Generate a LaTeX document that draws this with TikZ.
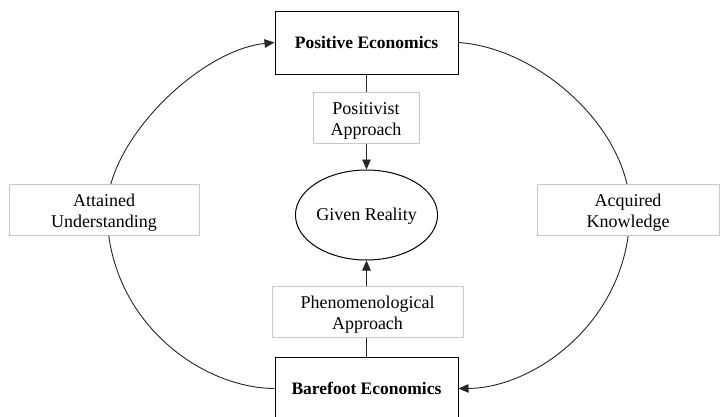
\documentclass[tikz,border=0pt]{standalone}
\usepackage{fontspec}
\setmainfont{Liberation Serif}
\usetikzlibrary{shapes.geometric,arrows.meta}
\definecolor{labgray}{RGB}{200,200,200}
\newcommand\toplift{\rule{0pt}{19pt}}
\begin{document}
\begin{tikzpicture}[x=1pt,y=-1pt,
  every node/.style={font=\fontsize{18}{21.5}\selectfont, align=center, inner sep=0pt},
  mainbox/.style={draw=black, line width=1pt, fill=white, minimum width=183pt, minimum height=63pt, font=\fontsize{17.5}{21}\selectfont\bfseries},
  labbox/.style={draw=labgray, line width=1pt, fill=white, minimum height=51pt},
  conn/.style={draw=black!85, line width=0.9pt},
  tip/.style={-{Triangle[length=10pt,width=8.5pt]}}
]
\useasboundingbox (0,0) rectangle (721,416);
\clip (0,0) rectangle (721,416);
\fill[white] (0,0) rectangle (721,416);

\node[mainbox] (pe) at (366.5,42.5) {Positive Economics};
\node[mainbox] (be) at (366.5,388.5) {Barefoot Economics};
\node[draw=black, line width=1pt, ellipse, minimum width=133pt, minimum height=90pt] (gr) at (366.5,215) {\raisebox{0pt}[12.5pt][1.5pt]{Given Reality}};

\coordinate (L) at (107,210);
\coordinate (R) at (630,210);

\draw[conn,tip] (be.west) .. controls (200,388) and (107,320) .. (L) .. controls (107,140) and (200,50) .. (pe.west);
\draw[conn,tip] (pe.east) .. controls (540,48) and (630,130) .. (R) .. controls (630,320) and (535,388) .. (be.east);

\draw[conn,tip] (pe.south) -- (gr.north);
\draw[conn,tip] (be.north) -- (gr.south);

\node[labbox, minimum width=106pt] (pa) at (366,117.5) {\toplift Positivist\\Approach};
\node[labbox, minimum width=191pt] (pha) at (367.5,311.5) {\toplift Phenomenological\\Approach};
\node[labbox, minimum width=190pt] (au) at (104,209.5) {\toplift Attained\\Understanding};
\node[labbox, minimum width=182pt] (ak) at (628,209.5) {\toplift Acquired\\Knowledge};
\end{tikzpicture}
\end{document}
